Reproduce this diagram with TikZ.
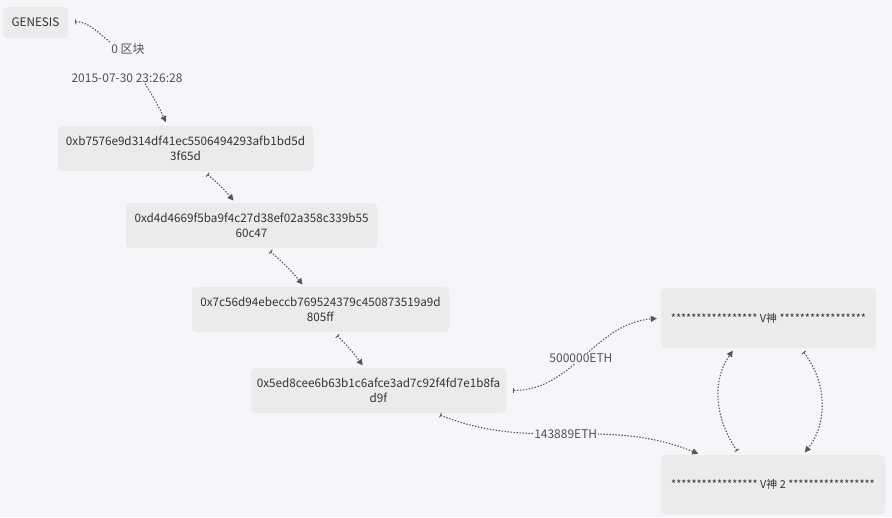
\documentclass[tikz,border=0pt]{standalone}
\usepackage{fontspec}
\setmainfont{Noto Sans CJK SC}
\usetikzlibrary{arrows.meta,positioning,calc}
\definecolor{canvas}{RGB}{246,246,250}
\definecolor{boxgray}{RGB}{235,235,235}
\definecolor{inkgray}{RGB}{51,51,51}
\definecolor{linkgray}{RGB}{85,85,85}
\newcommand{\stars}{*****************}

\begin{document}
\begin{tikzpicture}[x=1pt, y=-1pt,
  font=\fontsize{11.7}{14.5}\selectfont,
  blk/.style={fill=boxgray, rounded corners=4pt, align=center, inner sep=0pt, text=inkgray},
  acct/.style={blk, font=\fontsize{10.9}{13}\selectfont},
  lbl/.style={fill=canvas, inner sep=1pt, text=inkgray!85, font=\fontsize{12}{14}\selectfont},
  link/.style={draw=linkgray, line width=1.1pt, dash pattern=on 1.4pt off 1.6pt},
  barhead/.style={link, {Bar[width=5pt,line width=0.9pt]}-{Triangle[length=6pt,width=6pt]},
                  shorten <=5pt, shorten >=3pt}]
\useasboundingbox[fill=canvas] (0,0) rectangle (892,517);
% genesis and its label
\node[blk, minimum width=65, minimum height=31] (gen) at (35.5,22.5) {GENESIS};
\node[lbl] (blk0) at (128,49) {0 区块};
\node[lbl] (stamp) at (127,78) {2015-07-30 23:26:28};
% hash chain
\node[blk, minimum width=255, minimum height=45] (h1) at (185.5,148.5) {0xb7576e9d314df41ec5506494293afb1bd5d\\3f65d};
\node[blk, minimum width=251, minimum height=45] (h2) at (251.5,225.5) {0xd4d4669f5ba9f4c27d38ef02a358c339b55\\60c47};
\node[blk, minimum width=257, minimum height=45] (h3) at (320.5,309.5) {0x7c56d94ebeccb769524379c450873519a9d\\805ff};
\node[blk, minimum width=255, minimum height=45] (h4) at (378.5,390.5) {0x5ed8cee6b63b1c6afce3ad7c92f4fd7e1b8fa\\d9f};
% accounts
\node[acct, minimum width=215, minimum height=60] (vs) at (768.5,318) {\stars{} V神 \stars};
\node[acct, minimum width=224, minimum height=59] (vs2) at (773,484.5) {\stars{} V神 2 \stars};
% links
\draw[link, {Bar[width=5pt,line width=0.9pt]}-, shorten <=7pt] (gen.east) to[out=5,in=140] (blk0.north west);
\draw[link, -{Triangle[length=6pt,width=6pt]}, shorten >=4pt] ([xshift=18]stamp.south) to[bend left=4] ([xshift=-18]h1.north);
\draw[barhead] ([xshift=18]h1.south) to[bend left=5] ([xshift=-16]h2.north);
\draw[barhead] ([xshift=15]h2.south) to[bend left=5] ([xshift=-16]h3.north);
\draw[barhead] ([xshift=13]h3.south) to[bend left=5] ([xshift=-14]h4.north);
\draw[barhead, shorten <=7pt, shorten >=4pt] (h4.east) to[out=0,in=185] node[lbl, pos=0.48] (eth1) {500000ETH} (vs.west);
\draw[barhead] ([xshift=57]h4.south) to[out=-22,in=158] node[lbl, pos=0.49] (eth2) {143889ETH} ([xshift=-72]vs2.north);
\draw[barhead] ([xshift=-33]vs2.north) to[out=125,in=-125] ([xshift=-34]vs.south);
\draw[barhead] ([xshift=32]vs.south) to[out=-52,in=52] ([xshift=30]vs2.north);
\end{tikzpicture}
\end{document}
